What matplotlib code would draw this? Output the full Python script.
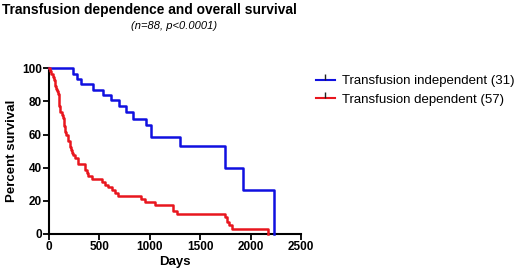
import matplotlib
matplotlib.use("Agg")
import matplotlib.pyplot as plt
from matplotlib.lines import Line2D

# Kaplan-Meier steps (days, percent survival)
indep_days = [0, 240, 275, 315, 440, 540, 620, 700, 760, 830, 960, 1015, 1300, 1750, 1920, 2230]
indep_surv = [100, 96.8, 93.5, 90.3, 87.1, 83.9, 80.6, 77.4, 73.5, 69.5, 65.5, 58.3, 53.0, 39.8, 26.5, 0]

dep_days = [0, 12, 25, 38, 50, 61, 70, 78, 88, 100, 111, 128, 144, 152, 160, 172, 185, 193,
            205, 215, 226, 240, 259, 292, 358, 375, 391, 424, 523, 560, 589, 622, 655, 688,
            910, 955, 1050, 1230, 1266, 1745, 1765, 1790, 1820, 2170]
dep_surv = [100, 98.2, 96.5, 94.7, 93.0, 89.5, 87.7, 86.0, 84.2, 77.2, 73.7, 71.9, 70.2, 64.9,
            61.4, 59.6, 57.9, 56.1, 52.6, 50.9, 49.1, 47.4, 45.6, 42.1, 38.6, 36.8, 35.1, 33.3,
            31.6, 29.8, 28.1, 26.3, 24.6, 22.8, 21.1, 19.3, 17.5, 14.0, 12.3, 10.5, 7.0, 5.3,
            2.8, 0]

labels = ["Transfusion independent (31)", "Transfusion dependent (57)"]
colors = ["#1010e0", "#e8161e"]
x_ticks = [0, 500, 1000, 1500, 2000, 2500]
y_ticks = [0, 20, 40, 60, 80, 100]

plt.rcParams['font.family'] = ['Liberation Sans', 'DejaVu Sans']

fig = plt.figure(figsize=(5.2, 2.74), dpi=100)
ax = fig.add_axes([0.094, 0.146, 0.485, 0.605])

ax.step(indep_days, indep_surv, where="post", color=colors[0], lw=1.8, clip_on=False, zorder=3)
ax.step(dep_days, dep_surv, where="post", color=colors[1], lw=1.8, clip_on=False, zorder=3)

ax.set_xlim(0, 2500)
ax.set_ylim(0, 100)
ax.set_xticks(x_ticks)
ax.set_yticks(y_ticks)
for s in ["top", "right"]:
    ax.spines[s].set_visible(False)
for s in ["left", "bottom"]:
    ax.spines[s].set_linewidth(1.5)
ax.tick_params(direction="out", length=4, width=1.3, labelsize=8.5, pad=1)
for t in ax.get_xticklabels() + ax.get_yticklabels():
    t.set_fontweight("bold")

ax.set_xlabel("Days", fontsize=9.5, fontweight="bold", labelpad=2)
ax.set_ylabel("Percent survival", fontsize=9.5, fontweight="bold", labelpad=3)

fig.text(0.004, 0.965, "Transfusion dependence and overall survival", fontsize=9.9,
         fontweight="bold", ha="left", va="center")
fig.text(0.335, 0.905, "(n=88, p<0.0001)", fontsize=8, style="italic", ha="center", va="center")

handles = [Line2D([0], [0], color=c, lw=1.5, marker=2, markersize=4,
                  markeredgecolor="#222222", markeredgewidth=1) for c in colors]
fig.legend(handles, labels, loc="upper left", bbox_to_anchor=(0.598, 0.745), frameon=False,
           fontsize=9.5, handlelength=1.4, handletextpad=0.55, labelspacing=0.45, borderaxespad=0)

fig.savefig("out.png", dpi=100)
